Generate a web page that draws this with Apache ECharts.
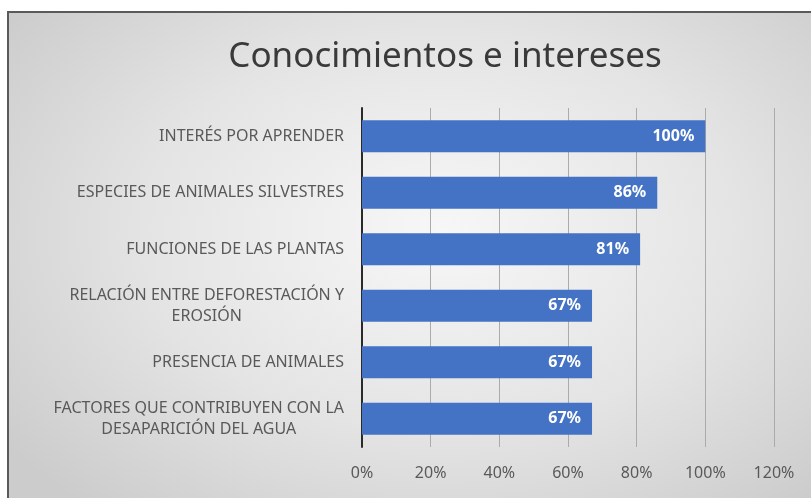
<!DOCTYPE html>
<html>
<head>
<meta charset="utf-8">
<script src="https://cdn.jsdelivr.net/npm/echarts@6/dist/echarts.min.js"></script>
<style>
  html, body { margin: 0; padding: 0; width: 811px; height: 498px; background: #ffffff; overflow: hidden; }
  #bg { position: absolute; left: 7px; top: 11px; width: 900px; height: 520px;
        border-left: 2px solid #5a5a5a; border-top: 2px solid #5a5a5a;
        background: radial-gradient(ellipse 60% 70% at 48% 42%, #f7f7f7 0%, #e4e4e4 55%, #cccccc 100%); }
  #chart { position: absolute; left: 0; top: 0; width: 811px; height: 498px; }
</style>
</head>
<body>
<div id="bg"></div>
<div id="chart"></div>
<script>
const titleText = 'Conocimientos e intereses';
const categories = [
  'INTERÉS POR APRENDER',
  'ESPECIES DE ANIMALES SILVESTRES',
  'FUNCIONES DE LAS PLANTAS',
  'RELACIÓN ENTRE DEFORESTACIÓN Y\nEROSIÓN',
  'PRESENCIA DE ANIMALES',
  'FACTORES QUE CONTRIBUYEN CON LA\nDESAPARICIÓN DEL AGUA'
];
const values = [1.00, 0.86, 0.81, 0.67, 0.67, 0.67];
const axisMin = 0, axisMax = 1.2, axisStep = 0.2;

const chart = echarts.init(document.getElementById('chart'), null, { renderer: 'canvas' });
chart.setOption({
  backgroundColor: 'transparent',
  animation: false,
  title: {
    text: titleText,
    left: 440, top: 35, textAlign: 'center',
    textStyle: { fontFamily: 'Noto Sans', fontSize: 35, fontWeight: 'normal', color: '#3a3a3a' }
  },
  grid: { left: 362, right: 37, top: 108, bottom: 51, containLabel: false },
  xAxis: {
    type: 'value', min: axisMin, max: axisMax, interval: axisStep,
    axisLine: { show: false }, axisTick: { show: false },
    splitLine: { show: true, lineStyle: { color: '#ababab', width: 1 } },
    axisLabel: {
      margin: 18, color: '#595959', fontFamily: 'Noto Sans', fontSize: 16,
      formatter: v => Math.round(v * 100) + '%'
    }
  },
  yAxis: {
    type: 'category', data: categories, inverse: true,
    axisLine: { show: true, lineStyle: { color: '#2a2a2a', width: 2 } },
    axisTick: { show: false },
    axisLabel: {
      margin: 18, color: '#595959', fontFamily: 'Noto Sans', fontSize: 16, lineHeight: 21,
      formatter: v => v.split('\n').map(s => '{c|' + s + '}').join('\n'),
      rich: { c: { align: 'center', color: '#595959', fontFamily: 'Noto Sans', fontSize: 16, lineHeight: 21 } }
    }
  },
  series: [{
    type: 'bar', data: values, barCategoryGap: '43%',
    itemStyle: { color: '#4472C4' },
    label: {
      show: true, position: 'insideRight', distance: 11, color: '#ffffff',
      fontFamily: 'Noto Sans', fontWeight: 'bold', fontSize: 16,
      formatter: p => Math.round(p.value * 100) + '%'
    }
  }]
});
</script>
</body>
</html>
